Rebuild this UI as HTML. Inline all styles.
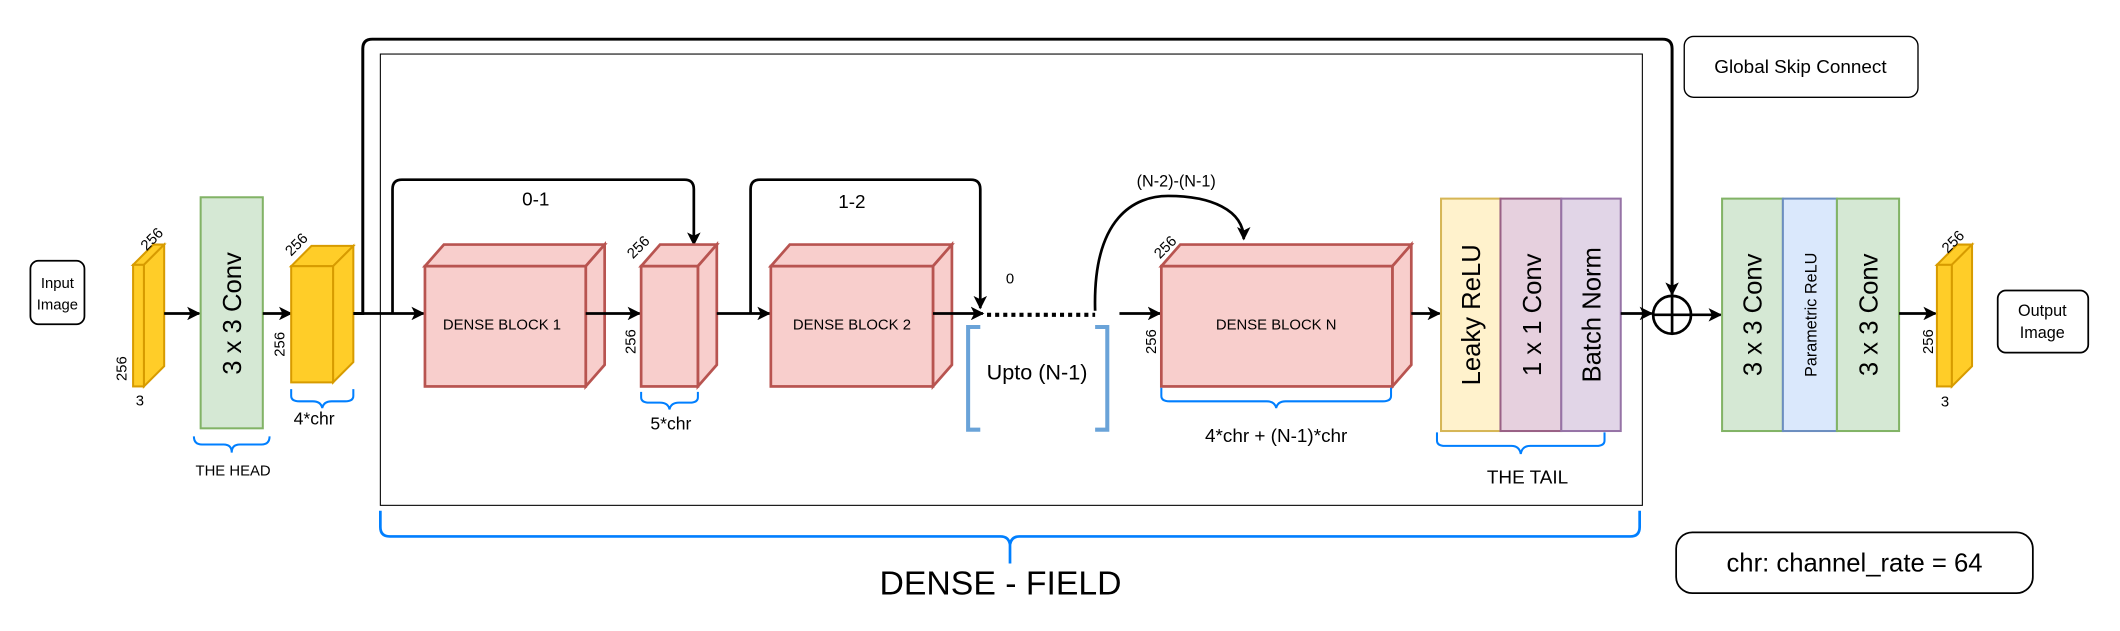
<!DOCTYPE html>
<html><head><meta charset="utf-8"><style>
html,body{margin:0;padding:0;background:#fff;}
svg{display:block;}
text{font-family:"Liberation Sans",Arial,sans-serif;fill:#000;}
</style></head><body>
<svg width="2120" height="631" viewBox="0 0 1568 467" xmlns="http://www.w3.org/2000/svg">
<defs>
<marker id="ar" markerWidth="10" markerHeight="10" refX="9" refY="5" orient="auto" markerUnits="userSpaceOnUse"><path d="M0,0 L10,5 L0,10 L2.5,5 Z" fill="#000"/></marker>
</defs>
<rect width="1568" height="467" fill="#fff"/>

<rect x="281" y="40" width="934" height="334" fill="none" stroke="#000" stroke-width="0.8"/>

<rect x="22" y="193" width="40" height="47" rx="6" fill="#fff" stroke="#000" stroke-width="1.3"/>
<text x="42" y="213" font-size="11" text-anchor="middle">Input</text>
<text x="42" y="229" font-size="11" text-anchor="middle">Image</text>

<g stroke="#d79b00" stroke-width="1.5" fill="#ffcd28">
<path d="M98,196 L113,181 L121,181 L106,196 Z"/>
<path d="M106,196 L121,181 L121,271 L106,286 Z"/>
<rect x="98" y="196" width="8" height="90"/>
</g>
<text transform="translate(108,186) rotate(-45)" font-size="11">256</text>
<text transform="translate(93,282) rotate(-90)" font-size="11">256</text>
<text x="103" y="300" font-size="11" text-anchor="middle">3</text>
<line x1="121" y1="232" x2="147" y2="232" stroke="#000" stroke-width="2" marker-end="url(#ar)"/>

<rect x="148" y="146" width="46" height="171" fill="#d5e8d4" stroke="#82b366" stroke-width="1.5"/>
<text transform="translate(178,232) rotate(-90)" font-size="19" text-anchor="middle">3 x 3 Conv</text>
<path d="M143,323 q0,6 6,6 h16 q6,0 6,6 q0,-6 6,-6 h16 q6,0 6,-6" fill="none" stroke="#007FFF" stroke-width="1.5"/>
<text x="172" y="352" font-size="11" text-anchor="middle">THE HEAD</text>
<line x1="194" y1="232" x2="215" y2="232" stroke="#000" stroke-width="2" marker-end="url(#ar)"/>

<g stroke="#d79b00" stroke-width="1.5" fill="#ffcd28">
<path d="M215,197 L230,182 L261,182 L246,197 Z"/>
<path d="M246,197 L261,182 L261,268 L246,283 Z"/>
<rect x="215" y="197" width="31" height="86"/>
</g>
<text transform="translate(215,190) rotate(-45)" font-size="11">256</text>
<text transform="translate(210,264) rotate(-90)" font-size="11">256</text>
<path d="M215,288 v5 q0,4 6,4 h10 q6,0 7,5 q1,-5 7,-5 h10 q6,0 6,-4 v-5" fill="none" stroke="#007FFF" stroke-width="1.5"/>
<text x="232" y="314" font-size="13" text-anchor="middle">4*chr</text>

<path d="M261,232 H268 V36 Q268,29 275,29 H1230 Q1237,29 1237,36 V218" fill="none" stroke="#000" stroke-width="2.2" marker-end="url(#ar)"/>
<line x1="268" y1="232" x2="313" y2="232" stroke="#000" stroke-width="2" marker-end="url(#ar)"/>

<path d="M290,232 V140 Q290,133 297,133 H506 Q513,133 513,140 V181" fill="none" stroke="#000" stroke-width="2" marker-end="url(#ar)"/>
<text x="396" y="152" font-size="14" text-anchor="middle">0-1</text>

<g stroke="#b85450" stroke-width="2" fill="#f8cecc">
<path d="M314,197 L328,181 L447,181 L433,197 Z"/>
<path d="M433,197 L447,181 L447,270 L433,286 Z"/>
<rect x="314" y="197" width="119" height="89"/>
</g>
<text x="371" y="244" font-size="11" text-anchor="middle">DENSE BLOCK 1</text>
<line x1="433" y1="232" x2="473" y2="232" stroke="#000" stroke-width="2" marker-end="url(#ar)"/>

<g stroke="#b85450" stroke-width="2" fill="#f8cecc">
<path d="M474,197 L488,181 L530,181 L516,197 Z"/>
<path d="M516,197 L530,181 L530,270 L516,286 Z"/>
<rect x="474" y="197" width="42" height="89"/>
</g>
<text transform="translate(468,192) rotate(-45)" font-size="11">256</text>
<text transform="translate(470,262) rotate(-90)" font-size="11">256</text>
<path d="M474,290 v4 q0,4 6,4 h8 q6,0 7,5 q1,-5 7,-5 h8 q6,0 6,-4 v-4" fill="none" stroke="#007FFF" stroke-width="1.5"/>
<text x="496" y="318" font-size="13" text-anchor="middle">5*chr</text>
<line x1="530" y1="232" x2="569" y2="232" stroke="#000" stroke-width="2" marker-end="url(#ar)"/>

<path d="M555,232 V140 Q555,133 562,133 H718 Q725,133 725,140 V228" fill="none" stroke="#000" stroke-width="2" marker-end="url(#ar)"/>
<text x="630" y="154" font-size="14" text-anchor="middle">1-2</text>

<g stroke="#b85450" stroke-width="2" fill="#f8cecc">
<path d="M570,197 L584,181 L704,181 L690,197 Z"/>
<path d="M690,197 L704,181 L704,270 L690,286 Z"/>
<rect x="570" y="197" width="120" height="89"/>
</g>
<text x="630" y="244" font-size="11" text-anchor="middle">DENSE BLOCK 2</text>
<line x1="690" y1="232" x2="727" y2="232" stroke="#000" stroke-width="2" marker-end="url(#ar)"/>
<text x="747" y="210" font-size="11" text-anchor="middle">0</text>

<line x1="730" y1="233" x2="810" y2="233" stroke="#000" stroke-width="3" stroke-dasharray="3,3"/>
<path d="M725,242 H716 V318 H725" fill="none" stroke="#6aa3d8" stroke-width="3"/>
<path d="M810,242 H819 V318 H810" fill="none" stroke="#6aa3d8" stroke-width="3"/>
<text x="767" y="281" font-size="16" text-anchor="middle">Upto (N-1)</text>

<path d="M810,230 C808,160 840,145 864,145 C895,145 920,155 920,177" fill="none" stroke="#000" stroke-width="2" marker-end="url(#ar)"/>
<text x="870" y="138" font-size="12" text-anchor="middle">(N-2)-(N-1)</text>
<line x1="828" y1="232" x2="858" y2="232" stroke="#000" stroke-width="2" marker-end="url(#ar)"/>

<g stroke="#b85450" stroke-width="2" fill="#f8cecc">
<path d="M859,197 L873,181 L1044,181 L1030,197 Z"/>
<path d="M1030,197 L1044,181 L1044,270 L1030,286 Z"/>
<rect x="859" y="197" width="171" height="89"/>
</g>
<text x="944" y="244" font-size="11" text-anchor="middle">DENSE BLOCK N</text>
<text transform="translate(858,192) rotate(-45)" font-size="11">256</text>
<text transform="translate(855,262) rotate(-90)" font-size="11">256</text>
<path d="M859,287 v6 q0,4 6,4 h72 q6,0 7,5 q1,-5 7,-5 h72 q6,0 6,-4 v-6" fill="none" stroke="#007FFF" stroke-width="1.5"/>
<text x="944" y="327" font-size="14" text-anchor="middle">4*chr + (N-1)*chr</text>
<line x1="1044" y1="232" x2="1065" y2="232" stroke="#000" stroke-width="2" marker-end="url(#ar)"/>

<rect x="1066" y="147" width="44" height="172" fill="#fff2cc" stroke="#d6b656" stroke-width="1.5"/>
<rect x="1110" y="147" width="45" height="172" fill="#e6d0de" stroke="#996185" stroke-width="1.5"/>
<rect x="1155" y="147" width="44" height="172" fill="#e1d5e7" stroke="#9673a6" stroke-width="1.5"/>
<text transform="translate(1095,233) rotate(-90)" font-size="19" text-anchor="middle">Leaky ReLU</text>
<text transform="translate(1140,233) rotate(-90)" font-size="19" text-anchor="middle">1 x 1 Conv</text>
<text transform="translate(1184,233) rotate(-90)" font-size="19" text-anchor="middle">Batch Norm</text>
<path d="M1063,320 v6 q0,4 6,4 h49 q6,0 7,6 q1,-6 7,-6 h49 q6,0 6,-4 v-6" fill="none" stroke="#007FFF" stroke-width="1.5"/>
<text x="1130" y="358" font-size="14" text-anchor="middle">THE TAIL</text>
<line x1="1199" y1="232" x2="1222" y2="232" stroke="#000" stroke-width="2" marker-end="url(#ar)"/>

<circle cx="1237" cy="233" r="14" fill="#fff" stroke="#000" stroke-width="2"/>
<line x1="1223" y1="233" x2="1251" y2="233" stroke="#000" stroke-width="2"/>
<line x1="1237" y1="219" x2="1237" y2="247" stroke="#000" stroke-width="2"/>
<line x1="1251" y1="233" x2="1273" y2="233" stroke="#000" stroke-width="2" marker-end="url(#ar)"/>

<rect x="1274" y="147" width="45" height="172" fill="#d5e8d4" stroke="#82b366" stroke-width="1.5"/>
<rect x="1319" y="147" width="40" height="172" fill="#dae8fc" stroke="#6c8ebf" stroke-width="1.5"/>
<rect x="1359" y="147" width="46" height="172" fill="#d5e8d4" stroke="#82b366" stroke-width="1.5"/>
<text transform="translate(1303,233) rotate(-90)" font-size="19" text-anchor="middle">3 x 3 Conv</text>
<text transform="translate(1344,233) rotate(-90)" font-size="12" text-anchor="middle">Parametric ReLU</text>
<text transform="translate(1389,233) rotate(-90)" font-size="19" text-anchor="middle">3 x 3 Conv</text>
<line x1="1405" y1="232" x2="1432" y2="232" stroke="#000" stroke-width="2" marker-end="url(#ar)"/>

<g stroke="#d79b00" stroke-width="1.5" fill="#ffcd28">
<path d="M1433,196 L1448,181 L1459,181 L1444,196 Z"/>
<path d="M1444,196 L1459,181 L1459,271 L1444,286 Z"/>
<rect x="1433" y="196" width="11" height="90"/>
</g>
<text transform="translate(1441,188) rotate(-45)" font-size="11">256</text>
<text transform="translate(1430,262) rotate(-90)" font-size="11">256</text>
<text x="1439" y="301" font-size="11" text-anchor="middle">3</text>
<rect x="1478" y="215" width="67" height="46" rx="6" fill="#fff" stroke="#000" stroke-width="1.3"/>
<text x="1511" y="234" font-size="12" text-anchor="middle">Output</text>
<text x="1511" y="250" font-size="12" text-anchor="middle">Image</text>

<rect x="1246" y="27" width="173" height="45" rx="7" fill="#fff" stroke="#000" stroke-width="1"/>
<text x="1332" y="54" font-size="14" text-anchor="middle">Global Skip Connect</text>

<path d="M281,378 v12 q0,7 7,7 h452 q6,0 7,6 v14 M747,403 q1,-6 7,-6 h452 q7,0 7,-7 v-12" fill="none" stroke="#007FFF" stroke-width="2"/>
<text x="740" y="440" font-size="25" text-anchor="middle">DENSE - FIELD</text>

<rect x="1240" y="394" width="264" height="45" rx="12" fill="#fff" stroke="#000" stroke-width="1.3"/>
<text x="1372" y="423" font-size="19" text-anchor="middle">chr: channel_rate = 64</text>
</svg>
</body></html>
